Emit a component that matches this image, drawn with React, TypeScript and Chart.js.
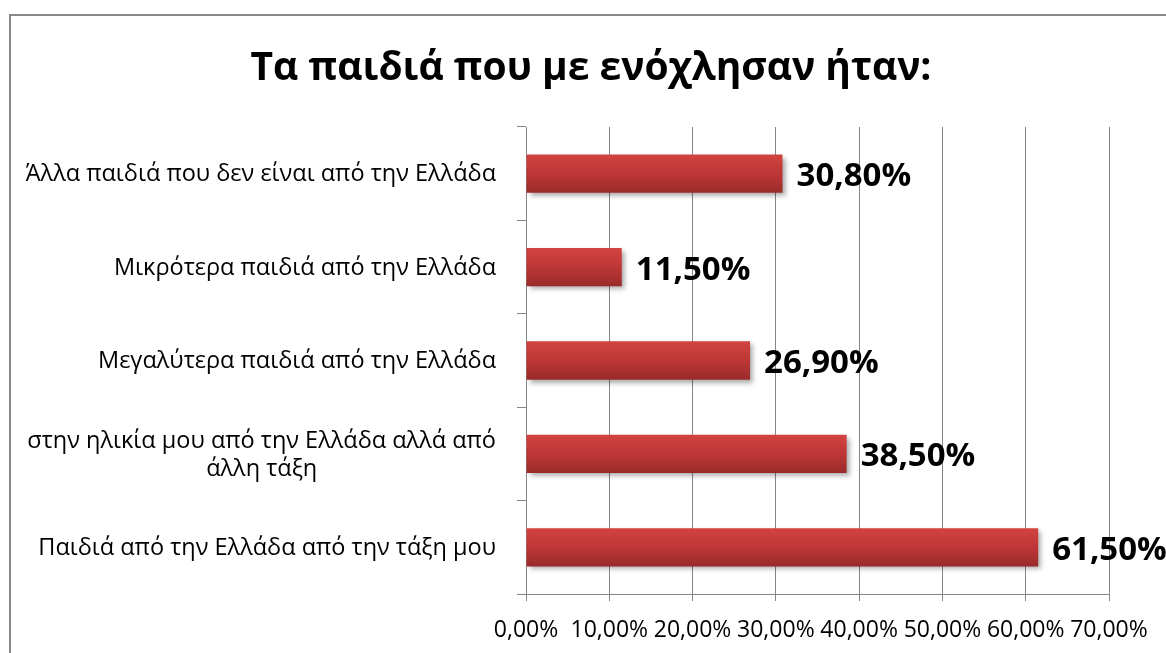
import React, { useEffect, useRef } from "react";
import { Chart, registerables } from "chart.js";

Chart.register(...registerables);

const titleText = "Τα παιδιά που με ενόχλησαν ήταν:";
const categories: string[][] = [
  ["Άλλα παιδιά που δεν είναι από την Ελλάδα"],
  ["Μικρότερα παιδιά από την Ελλάδα"],
  ["Μεγαλύτερα παιδιά από την Ελλάδα"],
  ["στην ηλικία μου από την Ελλάδα αλλά από", "άλλη τάξη"],
  ["Παιδιά από την Ελλάδα από την τάξη μου"],
];
const values: number[] = [30.8, 11.5, 26.9, 38.5, 61.5];
const xTicks: number[] = [0, 10, 20, 30, 40, 50, 60, 70];

const FONT = "'Open Sans', 'Noto Sans', sans-serif";
const GRID = "#868686";

const fmt = (v: number) => v.toFixed(2).replace(".", ",") + "%";

export default function App() {
  const ref = useRef<HTMLCanvasElement | null>(null);
  useEffect(() => {
    if (!ref.current) return;
    const shadowPlugin = {
      id: "barShadow",
      beforeDatasetsDraw(chart: any) {
        const c = chart.ctx;
        c.save();
        c.shadowColor = "rgba(0,0,0,0.35)";
        c.shadowBlur = 5;
        c.shadowOffsetX = 3;
        c.shadowOffsetY = 3;
      },
      afterDatasetsDraw(chart: any) {
        chart.ctx.restore();
      },
    };
    const labelPlugin = {
      id: "labels",
      afterDraw(chart: any) {
        const c = chart.ctx;
        const y = chart.scales.y;
        const meta = chart.getDatasetMeta(0);
        c.save();
        c.fillStyle = "#000";
        c.textBaseline = "middle";
        // title
        c.font = `bold 39px ${FONT}`;
        c.textAlign = "center";
        c.fillText(titleText, 591, 69);
        // category labels
        c.font = `23.5px ${FONT}`;
        const right = 496;
        const lh = 28;
        categories.forEach((lines, i) => {
          const cy = y.getPixelForValue(i);
          const w = Math.max(...lines.map((l) => c.measureText(l).width));
          const cx = right - w / 2;
          const y0 = cy - ((lines.length - 1) * lh) / 2 + 1;
          lines.forEach((l, k) => c.fillText(l, cx, y0 + k * lh));
        });
        // value labels
        c.font = `bold 33px ${FONT}`;
        c.textAlign = "left";
        meta.data.forEach((bar: any, i: number) => {
          c.fillText(fmt(values[i]), bar.x + 14, bar.y + 3);
        });
        c.restore();
      },
    };
    const chart = new Chart(ref.current, {
      type: "bar",
      data: {
        labels: categories.map((l) => l.join(" ")),
        datasets: [
          {
            data: values,
            barPercentage: 0.41,
            categoryPercentage: 1,
            backgroundColor: (ctx: any) => {
              const ch = ctx.chart;
              const ys = ch.scales && ch.scales.y;
              if (!ys || ctx.dataIndex === undefined) return "#c0393a";
              const cy = ys.getPixelForValue(ctx.dataIndex);
              if (!Number.isFinite(cy)) return "#c0393a";
              const g = ch.ctx.createLinearGradient(0, cy - 19, 0, cy + 19);
              g.addColorStop(0, "#d24340");
              g.addColorStop(0.5, "#bd3736");
              g.addColorStop(1, "#9a2a2a");
              return g;
            },
            borderWidth: 0,
          },
        ],
      },
      options: {
        indexAxis: "y",
        animation: false,
        responsive: false,
        maintainAspectRatio: false,
        layout: { padding: { left: 0, right: 57, top: 127, bottom: 0 } },
        plugins: {
          legend: { display: false },
          tooltip: { enabled: false },
          title: { display: false },
        },
        scales: {
          x: {
            min: 0,
            max: 70,
            afterFit: (s: any) => {
              s.height = 59;
            },
            afterBuildTicks: (s: any) => {
              s.ticks = xTicks.map((v) => ({ value: v }));
            },
            ticks: {
              autoSkip: false,
              maxRotation: 0,
              color: "#000",
              font: { family: FONT, size: 23 },
              padding: 16,
              callback: (v: any) => fmt(Number(v)),
            },
            grid: { color: GRID, tickLength: 7, drawTicks: true },
            border: { color: GRID },
          },
          y: {
            afterFit: (s: any) => {
              s.width = 526;
            },
            ticks: { display: false },
            grid: {
              color: GRID,
              drawOnChartArea: false,
              drawTicks: true,
              tickLength: 9,
              offset: true,
            },
            border: { color: GRID },
          },
        },
      },
      plugins: [shadowPlugin, labelPlugin],
    } as any);
    return () => chart.destroy();
  }, []);
  return (
    <div style={{ position: "fixed", left: 0, top: 0, width: 1166, height: 653, background: "#fff", overflow: "hidden" }}>
      <div
        style={{
          position: "absolute",
          left: 9,
          top: 14,
          width: 1300,
          height: 800,
          border: "2px solid #878787",
          boxSizing: "border-box",
        }}
      />
      <canvas ref={ref} width={1166} height={653} style={{ position: "absolute", left: 0, top: 0 }} />
    </div>
  );
}
